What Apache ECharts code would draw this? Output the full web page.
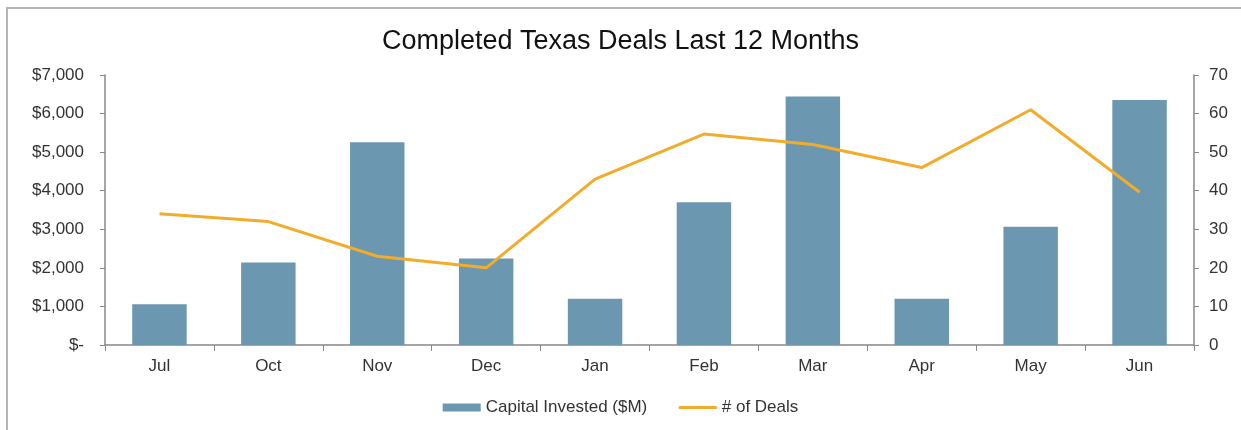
<!DOCTYPE html>
<html>
<head>
<meta charset="utf-8">
<script src="https://cdn.jsdelivr.net/npm/echarts@6/dist/echarts.min.js"></script>
<style>
  html, body { margin: 0; padding: 0; background: #fff; }
  #chart { width: 1241px; height: 430px; }
</style>
</head>
<body>
<div id="chart"></div>
<script>
const months = ["Jul", "Oct", "Nov", "Dec", "Jan", "Feb", "Mar", "Apr", "May", "Jun"];
const capitalInvested = [1055, 2140, 5255, 2245, 1200, 3700, 6440, 1200, 3065, 6350];
const dealCount = [34, 32, 23, 20, 43, 54.7, 52, 46, 61, 39.6];

const chart = echarts.init(document.getElementById("chart"));

const fmtMoney = (v) => (v === 0 ? "$-" : "$" + v.toLocaleString("en-US"));
const axisFont = { color: "#333", fontSize: 17, fontFamily: "Liberation Sans, Arial, sans-serif" };

const option = {
  animation: false,
  graphic: [
    {
      type: "rect",
      shape: { x: 7, y: 8, width: 1250, height: 440 },
      style: { fill: "none", stroke: "#b4b4b4", lineWidth: 2 },
      silent: true,
    },
  ],
  title: {
    text: "Completed Texas Deals Last 12 Months",
    left: "center",
    top: 23,
    textStyle: { fontFamily: "Liberation Sans, Arial, sans-serif", fontSize: 27, fontWeight: "normal", color: "#111" },
  },
  legend: {
    top: 394,
    left: "center",
    itemGap: 30,
    itemWidth: 38,
    itemHeight: 8,
    textStyle: axisFont,
    data: [
      { name: "Capital Invested ($M)", icon: "rect" },
      { name: "# of Deals", itemStyle: { opacity: 0 }, lineStyle: { width: 3 } },
    ],
  },
  grid: { left: 105, right: 47, top: 75, bottom: 85 },
  xAxis: {
    type: "category",
    data: months,
    axisLine: { lineStyle: { color: "#888", width: 1.5 } },
    axisTick: { show: true, length: 6, lineStyle: { color: "#888" } },
    axisLabel: { ...axisFont, margin: 13 },
  },
  yAxis: [
    {
      type: "value",
      min: 0,
      max: 7000,
      interval: 1000,
      splitLine: { show: false },
      axisLine: { show: true, lineStyle: { color: "#888", width: 1.5 } },
      axisTick: { show: true, length: 5, lineStyle: { color: "#888" } },
      axisLabel: { ...axisFont, margin: 21, formatter: fmtMoney },
    },
    {
      type: "value",
      min: 0,
      max: 70,
      interval: 10,
      splitLine: { show: false },
      axisLine: { show: true, lineStyle: { color: "#888", width: 1.5 } },
      axisTick: { show: true, length: 5, lineStyle: { color: "#888" } },
      axisLabel: { ...axisFont, margin: 15 },
    },
  ],
  series: [
    {
      name: "Capital Invested ($M)",
      type: "bar",
      data: capitalInvested,
      barWidth: "50%",
      itemStyle: { color: "#6b97b1" },
    },
    {
      name: "# of Deals",
      type: "line",
      yAxisIndex: 1,
      data: dealCount,
      symbol: "none",
      lineStyle: { color: "#f2ac2c", width: 3 },
      itemStyle: { color: "#f2ac2c" },
    },
  ],
};

chart.setOption(option);
</script>
</body>
</html>
